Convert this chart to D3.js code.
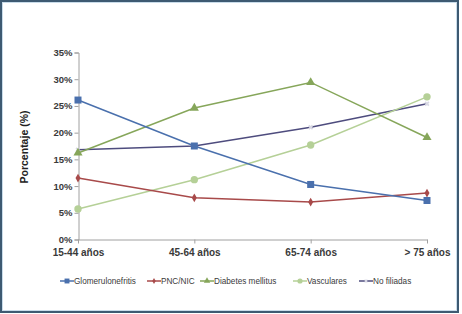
<!DOCTYPE html>
<html>
<head>
<meta charset="utf-8">
<script src="https://d3js.org/d3.v7.min.js"></script>
<style>
  body { margin: 0; background: #fff; }
  svg { display: block; font-family: "Liberation Sans", Arial, sans-serif; }
</style>
</head>
<body>
<svg width="462" height="314"></svg>
<script>
// categories and series (percent)
var categories = ["15-44 años", "45-64 años", "65-74 años", "> 75 años"];
var glomerulonefritis = [26.1, 17.5, 10.3, 7.3];
var pncNic = [11.5, 7.8, 7.0, 8.7];
var diabetes = [16.2, 24.6, 29.4, 19.1];
var vasculares = [5.7, 11.2, 17.7, 26.7];
var noFiliadas = [16.8, 17.5, 21.0, 25.4];
var yTicks = [0, 5, 10, 15, 20, 25, 30, 35];

var series = [
  {name: "Glomerulonefritis", values: glomerulonefritis, color: "#4a70ad", marker: "square"},
  {name: "PNC/NIC", values: pncNic, color: "#a84a4a", marker: "diamond"},
  {name: "Diabetes mellitus", values: diabetes, color: "#86a65a", marker: "triangle"},
  {name: "Vasculares", values: vasculares, color: "#b5d097", marker: "circle"},
  {name: "No filiadas", values: noFiliadas, color: "#4e4c7e", marker: "none"}
];

var svg = d3.select("svg");

// frame
svg.append("rect").attr("x", 1).attr("y", 1).attr("width", 457).attr("height", 311)
  .attr("fill", "#fff").attr("stroke", "#3e5a72").attr("stroke-width", 2);
svg.append("rect").attr("x", 2.5).attr("y", 2.5).attr("width", 454).attr("height", 308)
  .attr("fill", "none").attr("stroke", "#c9dcea").attr("stroke-width", 1);

var x = d3.scalePoint().domain(categories).range([78, 427]);
var y = d3.scaleLinear().domain([0, 35]).range([239.5, 52.5]);

// y axis
var yAxis = svg.append("g").attr("transform", "translate(78.5,0)")
  .call(d3.axisLeft(y).tickValues(yTicks).tickSize(4).tickFormat(function(d) { return d + "%"; }));
yAxis.select(".domain").attr("stroke", "#a0a0a0");
yAxis.selectAll(".tick line").attr("stroke", "#a0a0a0");
yAxis.selectAll(".tick text").attr("font-size", 9.5).attr("font-weight", "bold")
  .attr("fill", "#3a3a3a").attr("x", -6);

// x axis
var xAxis = svg.append("g").attr("transform", "translate(0,239.5)")
  .call(d3.axisBottom(x).tickSize(4).tickSizeOuter(0));
xAxis.select(".domain").attr("stroke", "#a0a0a0");
xAxis.selectAll(".tick line").attr("stroke", "#a0a0a0");
xAxis.selectAll(".tick text").attr("font-size", 10).attr("font-weight", "bold")
  .attr("fill", "#3a3a3a").attr("y", 9);

// y title
svg.append("text").attr("transform", "translate(28,147) rotate(-90)")
  .attr("text-anchor", "middle").attr("font-size", 10.5).attr("font-weight", "bold")
  .attr("fill", "#222").text("Porcentaje (%)");

var line = d3.line()
  .x(function(d, i) { return x(categories[i]); })
  .y(function(d) { return y(d); });

function drawMarker(g, type, cx, cy, color, scale) {
  var s = scale || 1;
  if (type === "square") {
    g.append("rect").attr("x", cx - 3.5 * s).attr("y", cy - 3.5 * s)
      .attr("width", 7 * s).attr("height", 7 * s).attr("fill", color);
  } else if (type === "diamond") {
    g.append("path").attr("d", d3.symbol(d3.symbolDiamond, 22 * s * s)())
      .attr("transform", "translate(" + cx + "," + cy + ")").attr("fill", color);
  } else if (type === "triangle") {
    g.append("path").attr("d", d3.symbol(d3.symbolTriangle, 36 * s * s)())
      .attr("transform", "translate(" + cx + "," + cy + ")").attr("fill", color);
  } else if (type === "circle") {
    g.append("circle").attr("cx", cx).attr("cy", cy).attr("r", 3.7 * s).attr("fill", color);
  } else {
    g.append("path").attr("d", d3.symbol(d3.symbolCross, 16 * s * s)())
      .attr("transform", "translate(" + cx + "," + cy + ") rotate(45)").attr("fill", "#d8d8e4");
  }
}

// draw "No filiadas" first so the other markers sit on top of it
series.slice().reverse().forEach(function(s) {
  var g = svg.append("g");
  g.append("path").datum(s.values).attr("d", line)
    .attr("fill", "none").attr("stroke", s.color).attr("stroke-width", 1.5);
  s.values.forEach(function(v, i) {
    drawMarker(g, s.marker, x(categories[i]), y(v), s.color, 1);
  });
});

// legend
var legendX = [60, 147, 200, 293, 359];
series.forEach(function(s, i) {
  var g = svg.append("g");
  var lx = legendX[i], ly = 281;
  g.append("line").attr("x1", lx).attr("x2", lx + 14).attr("y1", ly).attr("y2", ly)
    .attr("stroke", s.color).attr("stroke-width", 1.5);
  drawMarker(g, s.marker, lx + 7, ly, s.color, 0.7);
  g.append("text").attr("x", lx + 14).attr("y", ly + 3).attr("font-size", 8.2)
    .attr("fill", "#3a3a3a").text(s.name);
});
</script>
</body>
</html>
